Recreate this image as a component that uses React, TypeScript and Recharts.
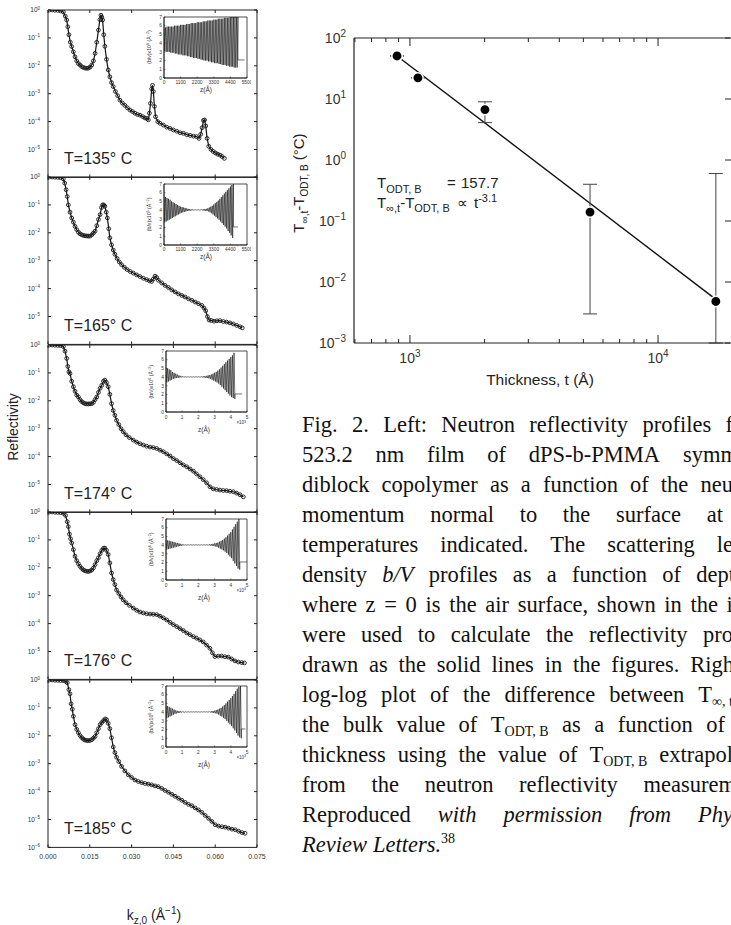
import React from 'react';
import { ComposedChart, LineChart, Line, Scatter, XAxis, YAxis, ErrorBar, ReferenceArea } from 'recharts';

const SANS = '"Liberation Sans", Arial, Helvetica, sans-serif';
const SERIF = '"Liberation Serif", "Times New Roman", serif';
const INK = '#222';
const TXT = '#333';

// ---------------- Left: reflectivity panels ----------------
const temperatures = ['135', '165', '174', '176', '185'];
const kTicks = [0, 0.015, 0.03, 0.045, 0.06, 0.075];
const reflTicks = [1, 0.1, 0.01, 0.001, 0.0001, 0.00001];
const reflTicksBottom = [1, 0.1, 0.01, 0.001, 0.0001, 0.00001, 0.000001];

const refl135: [number, number][] = [
  [0.0005, 1], [0.0015, 1], [0.0025, 0.98], [0.0035, 0.97], [0.0045, 0.93], [0.0055, 0.85],
  [0.0062, 0.6], [0.0067, 0.44], [0.0071, 0.25], [0.0075, 0.13], [0.008, 0.07],
  [0.0085, 0.049], [0.0091, 0.032], [0.0097, 0.021], [0.0103, 0.015], [0.0109, 0.012], [0.0115, 0.0107],
  [0.0121, 0.0093], [0.0127, 0.0087], [0.0133, 0.0083], [0.0139, 0.0081], [0.0145, 0.0083], [0.0151, 0.009],
  [0.0157, 0.0107], [0.0163, 0.015], [0.0169, 0.028], [0.0175, 0.07], [0.0181, 0.19],
  [0.0186, 0.45], [0.019, 0.65], [0.0193, 0.55], [0.0196, 0.44], [0.02, 0.13], [0.0204, 0.05],
  [0.021, 0.017], [0.0216, 0.0071], [0.0222, 0.004], [0.0228, 0.0025], [0.0234, 0.0018],
  [0.0242, 0.0012], [0.025, 8.5e-4], [0.0258, 5.9e-4], [0.0267, 4.6e-4], [0.0276, 3.8e-4], [0.0285, 3.1e-4],
  [0.0294, 2.6e-4], [0.0303, 2.3e-4], [0.0312, 2.0e-4], [0.0321, 1.8e-4], [0.033, 1.7e-4], [0.034, 1.5e-4],
  [0.0348, 1.35e-4], [0.0354, 1.3e-4], [0.036, 1.15e-4],
  [0.0364, 2.0e-4], [0.0368, 4.5e-4], [0.0372, 1.5e-3], [0.0375, 2.0e-3], [0.0378, 1.2e-3], [0.0382, 3.5e-4], [0.0386, 1.5e-4],
  [0.0394, 1.0e-4], [0.0402, 8.7e-5], [0.0414, 7.5e-5], [0.0426, 6.3e-5], [0.0438, 5.7e-5], [0.045, 5.0e-5],
  [0.0462, 4.5e-5], [0.0474, 4.0e-5], [0.0486, 3.8e-5], [0.0498, 3.4e-5], [0.051, 3.2e-5], [0.0522, 3.0e-5], [0.0533, 2.9e-5],
  [0.0542, 2.5e-5], [0.0548, 3.5e-5], [0.0553, 6.0e-5], [0.0558, 1.1e-4], [0.0562, 1.15e-4], [0.0566, 7.0e-5],
  [0.0571, 2.5e-5], [0.0577, 1.3e-5],
  [0.0585, 1.0e-5], [0.0593, 8.5e-6], [0.0601, 7.5e-6], [0.0609, 6.8e-6], [0.0617, 6.3e-6], [0.0625, 5.6e-6], [0.0633, 4.8e-6],
];

const refl165: [number, number][] = [
  [0.0005, 1], [0.0015, 1], [0.0025, 0.98], [0.0035, 0.97], [0.0045, 0.95], [0.0055, 0.85],
  [0.006, 0.6], [0.0065, 0.35], [0.0069, 0.2], [0.0073, 0.1], [0.0079, 0.055], [0.0085, 0.034],
  [0.0091, 0.024], [0.0097, 0.017], [0.0103, 0.013], [0.0109, 0.0105], [0.0115, 0.0092], [0.0121, 0.0085],
  [0.0127, 0.0081], [0.0133, 0.0078], [0.0139, 0.0077], [0.0145, 0.0076], [0.0151, 0.0076], [0.0157, 0.0085],
  [0.0163, 0.0098], [0.0169, 0.0115], [0.0175, 0.018], [0.0181, 0.03], [0.0187, 0.045], [0.0192, 0.08],
  [0.0196, 0.1], [0.02, 0.1], [0.0204, 0.089], [0.0209, 0.055], [0.0213, 0.034], [0.0218, 0.014],
  [0.0222, 0.0066], [0.0228, 0.0037], [0.0234, 0.0024], [0.024, 0.0017], [0.0248, 0.0012], [0.0256, 9.0e-4],
  [0.0264, 7.2e-4], [0.0274, 5.8e-4], [0.0284, 4.8e-4], [0.0295, 4.1e-4], [0.0306, 3.6e-4], [0.0318, 3.1e-4],
  [0.033, 2.7e-4], [0.0342, 2.35e-4], [0.0354, 2.1e-4], [0.0364, 1.9e-4], [0.0372, 1.8e-4], [0.0378, 2.2e-4],
  [0.0384, 2.8e-4], [0.039, 2.5e-4], [0.0396, 2.0e-4], [0.0408, 1.6e-4], [0.042, 1.3e-4], [0.0432, 1.1e-4],
  [0.0444, 9.0e-5], [0.0456, 7.6e-5], [0.0468, 6.5e-5], [0.048, 5.7e-5], [0.0492, 5.0e-5], [0.0504, 4.3e-5],
  [0.0516, 3.8e-5], [0.0528, 3.3e-5], [0.054, 2.9e-5], [0.0552, 2.5e-5], [0.056, 2.0e-5], [0.0566, 1.6e-5],
  [0.0572, 1.0e-5], [0.0578, 7.5e-6], [0.0586, 7.2e-6], [0.0596, 6.8e-6], [0.0606, 7.0e-6], [0.0617, 7.1e-6],
  [0.0629, 6.6e-6], [0.0641, 6.3e-6], [0.0653, 5.9e-6], [0.0665, 5.4e-6], [0.0677, 4.8e-6], [0.0689, 4.3e-6],
  [0.0697, 3.9e-6],
];

const refl174: [number, number][] = [
  [0.0005, 1], [0.0015, 1], [0.0025, 0.98], [0.0035, 0.97], [0.0045, 0.95], [0.0055, 0.88],
  [0.0061, 0.6], [0.0067, 0.33], [0.0071, 0.17], [0.0075, 0.11], [0.0079, 0.095], [0.0085, 0.05],
  [0.0091, 0.032], [0.0097, 0.022], [0.0103, 0.016], [0.0109, 0.0138], [0.0115, 0.011], [0.0121, 0.0093],
  [0.0127, 0.0085], [0.0133, 0.0079], [0.0139, 0.0077], [0.0145, 0.0077], [0.0151, 0.0078], [0.0157, 0.0079],
  [0.0163, 0.0088], [0.0169, 0.011], [0.0175, 0.0138], [0.0181, 0.02], [0.0187, 0.028], [0.0193, 0.036],
  [0.0199, 0.05], [0.0204, 0.055], [0.021, 0.045], [0.0216, 0.032], [0.0222, 0.017], [0.0228, 0.0079],
  [0.0234, 0.0045], [0.024, 0.003], [0.0246, 0.002], [0.0254, 0.0014], [0.0262, 0.001], [0.027, 7.8e-4],
  [0.028, 6.0e-4], [0.0292, 4.8e-4], [0.0306, 3.9e-4], [0.0318, 3.3e-4], [0.033, 2.9e-4], [0.0342, 2.6e-4],
  [0.0354, 2.35e-4], [0.0366, 2.2e-4], [0.0378, 2.1e-4], [0.039, 1.95e-4], [0.0402, 1.7e-4], [0.0414, 1.5e-4],
  [0.0426, 1.25e-4], [0.0438, 1.05e-4], [0.045, 8.5e-5], [0.0462, 7.2e-5], [0.0474, 6.0e-5], [0.0486, 5.0e-5],
  [0.0498, 4.3e-5], [0.051, 3.6e-5], [0.0522, 3.0e-5], [0.0533, 2.4e-5], [0.0545, 1.9e-5], [0.0557, 1.5e-5],
  [0.0569, 1.15e-5], [0.0581, 8.3e-6], [0.0593, 7.0e-6], [0.0605, 6.6e-6], [0.0617, 6.3e-6], [0.0629, 6.1e-6],
  [0.0641, 6.0e-6], [0.0653, 5.7e-6], [0.0665, 5.5e-6], [0.0677, 4.9e-6], [0.0689, 4.3e-6], [0.0701, 3.6e-6],
];

const refl176: [number, number][] = [
  [0.0005, 1], [0.0015, 1], [0.0025, 0.98], [0.0035, 0.97], [0.0045, 0.95], [0.0055, 0.9],
  [0.0063, 0.75], [0.0069, 0.45], [0.0073, 0.3], [0.0077, 0.16], [0.0081, 0.11], [0.0085, 0.078],
  [0.0091, 0.045], [0.0097, 0.026], [0.0103, 0.018], [0.0109, 0.014], [0.0115, 0.0112], [0.0121, 0.0095],
  [0.0127, 0.0084], [0.0133, 0.0078], [0.0139, 0.0075], [0.0145, 0.0074], [0.0151, 0.0077], [0.0157, 0.0083],
  [0.0163, 0.0098], [0.0169, 0.013], [0.0175, 0.018], [0.0181, 0.023], [0.0187, 0.032], [0.0193, 0.042],
  [0.0199, 0.05], [0.0204, 0.051], [0.021, 0.042], [0.0216, 0.03], [0.0222, 0.015], [0.0228, 0.0065],
  [0.0234, 0.0038], [0.024, 0.0025], [0.0246, 0.0016], [0.0254, 0.0012], [0.0262, 9.0e-4], [0.027, 7.1e-4],
  [0.028, 5.6e-4], [0.0292, 4.5e-4], [0.0306, 3.6e-4], [0.0318, 3.0e-4], [0.033, 2.6e-4], [0.0342, 2.4e-4],
  [0.0354, 2.25e-4], [0.0366, 2.2e-4], [0.0378, 2.15e-4], [0.039, 2.1e-4], [0.0402, 1.85e-4], [0.0414, 1.6e-4],
  [0.0426, 1.35e-4], [0.0438, 1.1e-4], [0.045, 9.2e-5], [0.0462, 7.8e-5], [0.0474, 6.6e-5], [0.0486, 5.6e-5],
  [0.0498, 4.6e-5], [0.051, 4.0e-5], [0.0522, 3.4e-5], [0.0533, 3.0e-5], [0.0545, 2.6e-5], [0.0557, 2.2e-5],
  [0.0569, 1.7e-5], [0.0581, 1.3e-5], [0.059, 9.0e-6], [0.0599, 6.6e-6], [0.0611, 6.8e-6], [0.0623, 6.9e-6],
  [0.0635, 6.5e-6], [0.0647, 6.3e-6], [0.0659, 5.4e-6], [0.0671, 4.6e-6], [0.0683, 4.2e-6], [0.0695, 4.0e-6],
  [0.0705, 3.9e-6],
];

const refl185: [number, number][] = [
  [0.0005, 1], [0.0015, 1], [0.0025, 0.98], [0.0035, 0.97], [0.0045, 0.96], [0.0055, 0.95],
  [0.0063, 0.9], [0.0069, 0.8], [0.0075, 0.45], [0.0079, 0.32], [0.0083, 0.14], [0.0087, 0.09],
  [0.0091, 0.05], [0.0097, 0.025], [0.0103, 0.017], [0.0109, 0.013], [0.0115, 0.0102], [0.0121, 0.0086],
  [0.0127, 0.0076], [0.0133, 0.007], [0.0139, 0.0068], [0.0145, 0.0067], [0.0151, 0.0068], [0.0157, 0.0073],
  [0.0163, 0.0082], [0.0169, 0.0095], [0.0175, 0.013], [0.0181, 0.018], [0.0187, 0.025], [0.0193, 0.03],
  [0.0199, 0.035], [0.0205, 0.04], [0.021, 0.038], [0.0216, 0.028], [0.0222, 0.018], [0.0228, 0.0085],
  [0.0234, 0.004], [0.024, 0.0025], [0.0246, 0.0017], [0.0254, 0.0012], [0.0264, 8.0e-4], [0.0276, 5.5e-4],
  [0.0288, 4.0e-4], [0.03, 3.2e-4], [0.0312, 2.6e-4], [0.0324, 2.3e-4], [0.0336, 2.1e-4], [0.0348, 1.95e-4],
  [0.036, 1.85e-4], [0.0372, 1.75e-4], [0.0384, 1.6e-4], [0.0396, 1.5e-4], [0.0408, 1.3e-4], [0.042, 1.1e-4],
  [0.0432, 9.5e-5], [0.0444, 8.0e-5], [0.0456, 6.8e-5], [0.0468, 5.8e-5], [0.048, 4.9e-5], [0.0492, 4.1e-5],
  [0.0504, 3.5e-5], [0.0516, 3.1e-5], [0.0528, 2.6e-5], [0.054, 2.2e-5], [0.0552, 1.8e-5], [0.0564, 1.4e-5],
  [0.0576, 1.1e-5], [0.0588, 8.5e-6], [0.06, 6.5e-6], [0.0612, 5.8e-6], [0.0624, 5.5e-6], [0.0636, 5.3e-6],
  [0.0648, 4.9e-6], [0.066, 4.5e-6], [0.0672, 4.3e-6], [0.0684, 3.8e-6], [0.0696, 3.4e-6], [0.0707, 3.2e-6],
];

const reflSets = [refl135, refl165, refl174, refl176, refl185];

// ---------------- Insets: scattering length density (b/V) x 10^6 vs depth z ----------------
const zGrid = [
  0, 50, 100, 150, 200, 250, 300, 350, 400, 450, 500, 550, 600, 650, 700, 750, 800, 850, 900, 950,
  1000, 1050, 1100, 1150, 1200, 1250, 1300, 1350, 1400, 1450, 1500, 1550, 1600, 1650, 1700, 1750, 1800, 1850, 1900, 1950,
  2000, 2050, 2100, 2150, 2200, 2250, 2300, 2350, 2400, 2450, 2500, 2550, 2600, 2650, 2700, 2750, 2800, 2850, 2900, 2950,
  3000, 3050, 3100, 3150, 3200, 3250, 3300, 3350, 3400, 3450, 3500, 3550, 3600, 3650, 3700, 3750, 3800, 3850, 3900, 3950,
  4000, 4050, 4100, 4150, 4200, 4250, 4300, 4350, 4400, 4450, 4500, 4550, 4600, 4650, 4700, 4750, 4800, 4850, 4900,
];

const bv135 = [
  5.8, 3.1, 5.8, 3.0, 5.9, 3.0, 5.9, 3.0, 5.9, 2.9,
  5.9, 2.9, 5.9, 2.9, 6.0, 2.8, 6.0, 2.8, 6.0, 2.7,
  6.0, 2.7, 6.1, 2.7, 6.1, 2.6, 6.1, 2.6, 6.1, 2.6,
  6.2, 2.5, 6.2, 2.5, 6.2, 2.4, 6.3, 2.4, 6.3, 2.3,
  6.3, 2.3, 6.3, 2.3, 6.4, 2.2, 6.4, 2.2, 6.4, 2.1,
  6.4, 2.1, 6.5, 2.0, 6.5, 2.0, 6.5, 2.0, 6.6, 1.9,
  6.6, 1.9, 6.6, 1.8, 6.6, 1.8, 6.7, 1.7, 6.7, 1.7,
  6.7, 1.7, 6.8, 1.6, 6.8, 1.6, 6.8, 1.5, 6.8, 1.5,
  6.9, 1.5, 6.9, 1.4, 6.9, 1.4, 6.9, 1.3, 7.0, 1.3,
  7.0, 1.3, 7.0, 1.2, 7.0, 1.2, 7.0, 1.2, 7.0,
];
const bv165 = [
  5.6, 2.6, 5.5, 2.7, 5.4, 2.8, 5.3, 2.9, 5.2, 3.0,
  5.0, 3.1, 4.9, 3.2, 4.8, 3.3, 4.7, 3.4, 4.6, 3.5,
  4.5, 3.6, 4.4, 3.7, 4.35, 3.75, 4.3, 3.8, 4.25, 3.85,
  4.2, 3.9, 4.15, 3.92, 4.12, 3.95, 4.1, 3.97, 4.08, 3.98,
  4.06, 4.0, 4.05, 4.0, 4.05, 4.0, 4.05, 4.0, 4.06, 3.99,
  4.08, 3.97, 4.1, 3.95, 4.12, 3.92, 4.15, 3.9, 4.2, 3.85,
  4.3, 3.75, 4.4, 3.65, 4.5, 3.5, 4.65, 3.35, 4.8, 3.2,
  4.95, 3.05, 5.1, 2.9, 5.3, 2.7, 5.5, 2.5, 5.7, 2.3,
  5.9, 2.1, 6.1, 1.9, 6.3, 1.6, 6.5, 1.4, 6.7, 1.1,
  6.9, 0.8, 7.0,
];
const bv174 = [
  5.1, 3.4, 5.0, 3.5, 4.9, 3.6, 4.8, 3.7, 4.6, 3.8,
  4.5, 3.85, 4.4, 3.9, 4.3, 3.92, 4.2, 3.95, 4.15, 3.97,
  4.1, 3.98, 4.08, 4.0, 4.05, 4.0, 4.05, 4.0, 4.05, 4.0,
  4.05, 4.0, 4.05, 4.0, 4.05, 4.0, 4.05, 4.0, 4.05, 4.0,
  4.06, 3.99, 4.07, 3.98, 4.08, 3.97, 4.1, 3.95, 4.12, 3.92,
  4.15, 3.9, 4.2, 3.85, 4.25, 3.8, 4.3, 3.7, 4.4, 3.6,
  4.5, 3.5, 4.6, 3.4, 4.75, 3.25, 4.9, 3.1, 5.1, 2.9,
  5.3, 2.7, 5.5, 2.5, 5.7, 2.3, 5.9, 2.1, 6.1, 1.9,
  6.3, 1.7, 6.5, 1.6, 6.8, 1.5,
];
const bv176 = [
  4.6, 3.5, 4.55, 3.55, 4.5, 3.6, 4.45, 3.65, 4.4, 3.7,
  4.35, 3.75, 4.3, 3.8, 4.25, 3.85, 4.2, 3.9, 4.15, 3.92,
  4.1, 3.95, 4.08, 3.98, 4.05, 4.0, 4.05, 4.0, 4.05, 4.0,
  4.05, 4.0, 4.05, 4.0, 4.05, 4.0, 4.05, 4.0, 4.05, 4.0,
  4.05, 4.0, 4.05, 4.0, 4.05, 4.0, 4.05, 4.0, 4.05, 4.0,
  4.06, 3.99, 4.08, 3.97, 4.1, 3.95, 4.12, 3.92, 4.15, 3.9,
  4.2, 3.85, 4.25, 3.8, 4.3, 3.7, 4.4, 3.6, 4.5, 3.5,
  4.6, 3.4, 4.75, 3.25, 4.9, 3.1, 5.1, 2.9, 5.3, 2.7,
  5.5, 2.5, 5.8, 2.2, 6.1, 1.9, 6.4, 1.6, 6.7, 1.3,
  7.0, 1.2,
];
const bv185 = [
  4.8, 3.3, 4.7, 3.4, 4.6, 3.5, 4.5, 3.6, 4.4, 3.7,
  4.3, 3.8, 4.2, 3.85, 4.15, 3.9, 4.12, 3.93, 4.1, 3.95,
  4.08, 3.97, 4.06, 3.98, 4.05, 4.0, 4.05, 4.0, 4.05, 4.0,
  4.05, 4.0, 4.05, 4.0, 4.05, 4.0, 4.05, 4.0, 4.05, 4.0,
  4.05, 4.0, 4.05, 4.0, 4.05, 4.0, 4.05, 4.0, 4.05, 4.0,
  4.06, 3.99, 4.07, 3.98, 4.08, 3.96, 4.1, 3.94, 4.13, 3.91,
  4.17, 3.87, 4.22, 3.82, 4.3, 3.72, 4.4, 3.6, 4.5, 3.5,
  4.65, 3.35, 4.8, 3.2, 5.0, 3.0, 5.2, 2.8, 5.4, 2.6,
  5.6, 2.4, 5.85, 2.15, 6.1, 1.9, 6.4, 1.6, 6.7, 1.3,
  6.9, 1.1, 7.0, 1.0,
];
// substrate tail (z, b/V) after the film
const bvTail135: [number, number][] = [[4900, 2.07], [5350, 2.07]];
const bvTail165: [number, number][] = [[4600, 2.07], [4900, 2.07]];
const bvTail174: [number, number][] = [[4250, 2.07], [4700, 2.07]];
const bvTail176: [number, number][] = [[4550, 2.07], [5000, 2.07]];
const bvTail185: [number, number][] = [[4650, 2.07], [4900, 2.07]];
const bvSets = [bv135, bv165, bv174, bv176, bv185];
const bvTails = [bvTail135, bvTail165, bvTail174, bvTail176, bvTail185];
const zTicksA = [0, 1100, 2200, 3300, 4400, 5500];
const zTicksB = [0, 1000, 2000, 3000, 4000, 5000];
const bvTicks = [0, 1, 2, 3, 4, 5, 6, 7];

// ---------------- Right: T_inf,t - T_ODT,B vs thickness ----------------
const thickness = [887, 1077, 2006, 5320, 17100];
const deltaT = [50.8, 22.2, 6.7, 0.14, 0.0048];
const deltaLow = [50.8, 22.2, 4.1, 0.003, 0.001];
const deltaHigh = [50.8, 22.2, 9.0, 0.4, 0.6];
const fitThickness = [887, 17100];
const fitDelta = [50.8, 0.0052];
const tTicks = [600, 700, 800, 900, 1000, 2000, 3000, 4000, 5000, 6000, 7000, 8000, 9000, 10000];
const dtTicks = [100, 10, 1, 0.1, 0.01, 0.001];

// ---------------- layout ----------------
const PANEL_TOPS = [10, 177.4, 344.8, 512.2, 679.6];
const PANEL_H = 167.4;

const expStr = (v: number) => {
  const e = Math.round(Math.log10(v));
  return e < 0 ? '\u2212' + -e : String(e);
};

function ReflPanel({ data, top, last }: { data: [number, number][]; top: number; last: boolean }) {
  const rows = data.map(([k, r]) => ({ k, r }));
  const mb = last ? 24 : 4;
  return (
    <div style={{ position: 'absolute', left: 0, top: top - 4 }}>
      <ComposedChart width={270} height={PANEL_H + 4 + mb} data={rows} margin={{ top: 3, right: 12, bottom: mb - 1, left: 8 }}>
        <XAxis xAxisId="b" dataKey="k" type="number" domain={[0, 0.075]} ticks={kTicks} interval={0}
          height={1} tickSize={0} tickMargin={0} tickLine={false} allowDataOverflow
          axisLine={{ stroke: INK, strokeWidth: 1 }}
          tick={(p: any) => (
            <g>
              <line x1={p.x} x2={p.x} y1={p.y} y2={p.y - 3} stroke={INK} />
              {last && (
                <text x={p.x} y={p.y + 12} textAnchor="middle" fontSize={7} fill={TXT} fontFamily={SANS}>
                  {Number(p.payload.value).toFixed(3)}
                </text>
              )}
            </g>
          )} />
        <XAxis xAxisId="t" orientation="top" dataKey="k" type="number" domain={[0, 0.075]} ticks={kTicks} interval={0}
          height={1} tickSize={0} tickMargin={0} tickLine={false} allowDataOverflow
          axisLine={{ stroke: INK, strokeWidth: 1 }}
          tick={(p: any) => <line x1={p.x} x2={p.x} y1={p.y} y2={p.y + 3} stroke={INK} />} />
        <YAxis yAxisId="l" type="number" scale="log" domain={[1e-6, 1]} ticks={last ? reflTicksBottom : reflTicks} interval={0}
          width={40} tickSize={0} tickMargin={0} tickLine={false} allowDataOverflow
          axisLine={{ stroke: INK, strokeWidth: 1 }}
          tick={(p: any) => (
            <g>
              <line x1={p.x} x2={p.x + 3} y1={p.y} y2={p.y} stroke={INK} />
              <text x={p.x - 8} y={p.y + 2.5} textAnchor="end" fontSize={6.5} fill={TXT} fontFamily={SANS}>
                10<tspan dy={-3} fontSize={4.5}>{expStr(p.payload.value)}</tspan>
              </text>
            </g>
          )} />
        <YAxis yAxisId="r" orientation="right" type="number" scale="log" domain={[1e-6, 1]} ticks={reflTicks} interval={0}
          width={1} tickSize={0} tickMargin={0} tickLine={false} allowDataOverflow
          axisLine={{ stroke: INK, strokeWidth: 1 }}
          tick={(p: any) => <line x1={p.x} x2={p.x - 3} y1={p.y} y2={p.y} stroke={INK} />} />
        <Line xAxisId="b" yAxisId="l" dataKey="r" type="linear" stroke="#111" strokeWidth={1.2} dot={false} isAnimationActive={false} />
        <Scatter xAxisId="b" yAxisId="l" dataKey="r" isAnimationActive={false}
          shape={(p: any) => <circle cx={p.cx} cy={p.cy} r={1.9} fill="none" stroke="#1a1a1a" strokeWidth={0.9} />} />
        <Line xAxisId="t" yAxisId="r" dataKey="r" stroke="none" dot={false} isAnimationActive={false} />
      </ComposedChart>
    </div>
  );
}

function Inset({ vals, tail, frameLeft, frameTop, wide }: { vals: number[]; tail: [number, number][]; frameLeft: number; frameTop: number; wide: boolean }) {
  const rows = vals.map((v, i) => ({ z: zGrid[i], v })).concat(tail.map(([z, v]) => ({ z, v })));
  const xMax = wide ? 5500 : 5000;
  const W = 247 - frameLeft;
  const H = 61;
  return (
    <div style={{ position: 'absolute', left: frameLeft - 20, top: frameTop - 3 }}>
      <LineChart width={W + 24} height={H + 3 + 14} data={rows} margin={{ top: 3, right: 4, bottom: 13, left: 2 }}>
        <XAxis dataKey="z" type="number" domain={[0, xMax]} ticks={wide ? zTicksA : zTicksB} interval={0}
          height={1} tickSize={0} tickMargin={0} tickLine={false} allowDataOverflow
          axisLine={{ stroke: INK, strokeWidth: 0.8 }}
          tick={(p: any) => (
            <g>
              <line x1={p.x} x2={p.x} y1={p.y} y2={p.y - 1.5} stroke={INK} strokeWidth={0.6} />
              <text x={p.x} y={p.y + (wide ? 6 : 6.5)} textAnchor="middle" fontSize={4.8} fill={TXT} fontFamily={SANS}>
                {wide ? p.payload.value : p.payload.value / 1000}
              </text>
            </g>
          )} />
        <YAxis type="number" domain={[0, 7]} ticks={bvTicks} interval={0} width={18}
          tickSize={0} tickMargin={0} tickLine={false} allowDataOverflow
          axisLine={{ stroke: INK, strokeWidth: 0.8 }}
          tick={(p: any) => (
            <g>
              <line x1={p.x} x2={p.x + 1.5} y1={p.y} y2={p.y} stroke={INK} strokeWidth={0.6} />
              <text x={p.x - 2} y={p.y + 1.7} textAnchor="end" fontSize={4.8} fill={TXT} fontFamily={SANS}>{p.payload.value}</text>
            </g>
          )} />
        <ReferenceArea x1={0} x2={xMax} y1={0} y2={7} fill="none" stroke={INK} strokeWidth={0.8} ifOverflow="visible" />
        <Line dataKey="v" type="linear" stroke="#000" strokeWidth={0.55} dot={false} isAnimationActive={false} />
      </LineChart>
    </div>
  );
}

function RightChart() {
  const rows = thickness.map((t, i) => ({ t, dt: deltaT[i], err: [deltaT[i] - deltaLow[i], deltaHigh[i] - deltaT[i]] }));
  const fitRows = fitThickness.map((t, i) => ({ t, dt: fitDelta[i] }));
  const isMajor = (v: number) => v === 1000 || v === 10000;
  return (
    <div style={{ position: 'absolute', left: 290, top: 28 }}>
      <ComposedChart width={441} height={360} margin={{ top: 9, right: 0, bottom: 44, left: 4 }}>
        <XAxis xAxisId="b" dataKey="t" type="number" scale="log" domain={[595, 19500]} ticks={tTicks} interval={0}
          height={1} tickSize={0} tickMargin={0} tickLine={false} allowDataOverflow
          axisLine={{ stroke: INK, strokeWidth: 1.2 }}
          tick={(p: any) => (
            <g>
              <line x1={p.x} x2={p.x} y1={p.y} y2={p.y - (isMajor(p.payload.value) ? 8 : 4)} stroke={INK} />
              {isMajor(p.payload.value) && (
                <text x={p.x} y={p.y + 20} textAnchor="middle" fontSize={14} fill={TXT} fontFamily={SANS}>
                  10<tspan dy={-6} fontSize={10}>{expStr(p.payload.value)}</tspan>
                </text>
              )}
            </g>
          )} />
        <XAxis xAxisId="t" orientation="top" dataKey="t" type="number" scale="log" domain={[595, 19500]} ticks={tTicks} interval={0}
          height={1} tickSize={0} tickMargin={0} tickLine={false} allowDataOverflow
          axisLine={{ stroke: INK, strokeWidth: 1.2 }}
          tick={(p: any) => <line x1={p.x} x2={p.x} y1={p.y} y2={p.y + (isMajor(p.payload.value) ? 8 : 4)} stroke={INK} />} />
        <YAxis yAxisId="l" type="number" scale="log" domain={[0.001, 100]} ticks={dtTicks} interval={0}
          width={60} tickSize={0} tickMargin={0} tickLine={false} allowDataOverflow
          axisLine={{ stroke: INK, strokeWidth: 1.2 }}
          tick={(p: any) => (
            <text x={p.x - 8} y={p.y + 5} textAnchor="end" fontSize={14} fill={TXT} fontFamily={SANS}>
              10<tspan dy={-6} fontSize={10}>{expStr(p.payload.value)}</tspan>
            </text>
          )} />
        <YAxis yAxisId="r" orientation="right" type="number" scale="log" domain={[0.001, 100]} ticks={dtTicks} interval={0}
          width={1} tickSize={0} tickMargin={0} tickLine={false} allowDataOverflow axisLine={false}
          tick={(p: any) => <line x1={p.x + 1} x2={p.x - 5} y1={p.y} y2={p.y} stroke={INK} />} />
        <Line data={fitRows} xAxisId="b" yAxisId="l" dataKey="dt" type="linear" stroke="#111" strokeWidth={1.4} dot={false} isAnimationActive={false} />
        <Scatter data={rows} xAxisId="b" yAxisId="l" dataKey="dt" isAnimationActive={false}
          shape={(p: any) => <circle cx={p.cx} cy={p.cy} r={5.2} fill="#000" stroke="#fff" strokeWidth={1.5} />}>
          <ErrorBar dataKey="err" direction="y" width={7} stroke="#444" strokeWidth={1} />
        </Scatter>
        <Line data={fitRows} xAxisId="t" yAxisId="r" dataKey="dt" stroke="none" dot={false} isAnimationActive={false} />
      </ComposedChart>
    </div>
  );
}

// ---------------- caption ----------------
const subStyle: React.CSSProperties = { fontSize: 14, verticalAlign: -4, lineHeight: 0 };
const captionLines: React.ReactNode[][] = [
  ['Fig.', '2.', 'Left:', 'Neutron', 'reflectivity', 'profiles', 'f'],
  ['523.2', 'nm', 'film', 'of', 'dPS-b-PMMA', 'symm'],
  ['diblock', 'copolymer', 'as', 'a', 'function', 'of', 'the', 'neu'],
  ['momentum', 'normal', 'to', 'the', 'surface', 'at'],
  ['temperatures', 'indicated.', 'The', 'scattering', 'le'],
  ['density', <i>b/V</i>, 'profiles', 'as', 'a', 'function', 'of', 'dept'],
  ['where', 'z', '=', '0', 'is', 'the', 'air', 'surface,', 'shown', 'in', 'the', 'i'],
  ['were', 'used', 'to', 'calculate', 'the', 'reflectivity', 'pro'],
  ['drawn', 'as', 'the', 'solid', 'lines', 'in', 'the', 'figures.', 'Righ'],
  ['log-log', 'plot', 'of', 'the', 'difference', 'between', <span>T<span style={subStyle}>∞, t</span></span>],
  ['the', 'bulk', 'value', 'of', <span>T<span style={subStyle}>ODT, B</span></span>, 'as', 'a', 'function', 'of'],
  ['thickness', 'using', 'the', 'value', 'of', <span>T<span style={subStyle}>ODT, B</span></span>, 'extrapol'],
  ['from', 'the', 'neutron', 'reflectivity', 'measurem'],
  ['Reproduced', <i>with</i>, <i>permission</i>, <i>from</i>, <i>Phy</i>],
  [<i>Review</i>, <span><i>Letters.</i><span style={{ fontSize: 14, verticalAlign: 9, lineHeight: 0 }}>38</span></span>],
];
const captionRight = [733, 738, 733, 723, 733, 735, 733, 733, 734, 733, 725, 733, 736, 733, 0];

export default function App() {
  return (
    <div style={{ position: 'absolute', left: 0, top: 0, width: 731, height: 925, overflow: 'hidden', background: '#fff', fontFamily: SANS }}>
      {reflSets.map((d, i) => (
        <ReflPanel key={i} data={d} top={PANEL_TOPS[i]} last={i === 4} />
      ))}
      {bvSets.map((v, i) => (
        <Inset key={i} vals={v} tail={bvTails[i]} frameLeft={i < 2 ? 164 : 166} frameTop={PANEL_TOPS[i] + 6.5} wide={i < 2} />
      ))}
      <RightChart />

      <svg width={731} height={925} style={{ position: 'absolute', left: 0, top: 0, pointerEvents: 'none' }} fontFamily={SANS}>
        {temperatures.map((t, i) => (
          <text key={t} x={64} y={PANEL_TOPS[i] + 154} fontSize={16} fill="#222">T={t}° C</text>
        ))}
        {PANEL_TOPS.map((pt, i) => {
          const ft = pt + 6.5;
          const fl = i < 2 ? 164 : 166;
          return (
            <g key={i} fill={TXT}>
              <text transform={`translate(${fl - 13},${ft + 30.5}) rotate(-90)`} textAnchor="middle" fontSize={5.2}>
                (b/v)x10<tspan dy={-2} fontSize={3.8}>6</tspan><tspan dy={2}> (Å</tspan><tspan dy={-2} fontSize={3.8}>−2</tspan><tspan dy={2}>)</tspan>
              </text>
              {i < 2 ? (
                <text x={206} y={ft + 61 + 14} textAnchor="middle" fontSize={6.5}>z(Å)</text>
              ) : (
                <g>
                  <text x={246} y={ft + 61 + 12} textAnchor="end" fontSize={4.5}>×10<tspan dy={-1.8} fontSize={3.5}>3</tspan></text>
                  <text x={204} y={ft + 61 + 20} textAnchor="middle" fontSize={6.5}>z(Å)</text>
                </g>
              )}
            </g>
          );
        })}
        <text transform="translate(18,427) rotate(-90)" textAnchor="middle" fontSize={14} fill="#222">Reflectivity</text>
        <text x={154} y={920} textAnchor="middle" fontSize={14} fill="#222">
          k<tspan dy={4} fontSize={10}>z,0</tspan><tspan dy={-4}>  (Å</tspan><tspan dy={-6} fontSize={10}>−1</tspan><tspan dy={6}>)</tspan>
        </text>

        <text transform="translate(304,183) rotate(-90)" textAnchor="middle" fontSize={15} fill="#222">
          T<tspan dy={4} fontSize={10}>∞,t</tspan><tspan dy={-4}>-T</tspan><tspan dy={4} fontSize={10}>ODT, B</tspan><tspan dy={-4}>  (°C)</tspan>
        </text>
        <text x={540} y={385} textAnchor="middle" fontSize={15.5} fill="#222">Thickness, t (Å)</text>
        <text x={377} y={188} fontSize={15} fill="#222">
          T<tspan dy={5} fontSize={11}>ODT, B</tspan><tspan x={447} dy={-5}>=</tspan><tspan x={461}>157.7</tspan>
        </text>
        <text x={377} y={208} fontSize={15} fill="#222">
          T<tspan dy={4} fontSize={11}>∞,t</tspan><tspan dy={-4}>-T</tspan><tspan dy={4} fontSize={11}>ODT, B</tspan><tspan x={457} dy={-4}>∝</tspan><tspan x={474}>t</tspan><tspan dy={-6} fontSize={11}>-3.1</tspan>
        </text>
      </svg>

      <div style={{ position: 'absolute', left: 302, top: 410, fontFamily: SERIF, fontSize: 22.5, lineHeight: '30px', color: '#111' }}>
        {captionLines.map((words, i) => (
          <div key={i} style={{
            display: 'flex',
            justifyContent: captionRight[i] ? 'space-between' : 'flex-start',
            columnGap: captionRight[i] ? 0 : 6,
            width: captionRight[i] ? captionRight[i] - 302 : 420,
            height: 30,
            whiteSpace: 'nowrap',
          }}>
            {words.map((w, j) => <span key={j}>{w}</span>)}
          </div>
        ))}
      </div>
    </div>
  );
}
